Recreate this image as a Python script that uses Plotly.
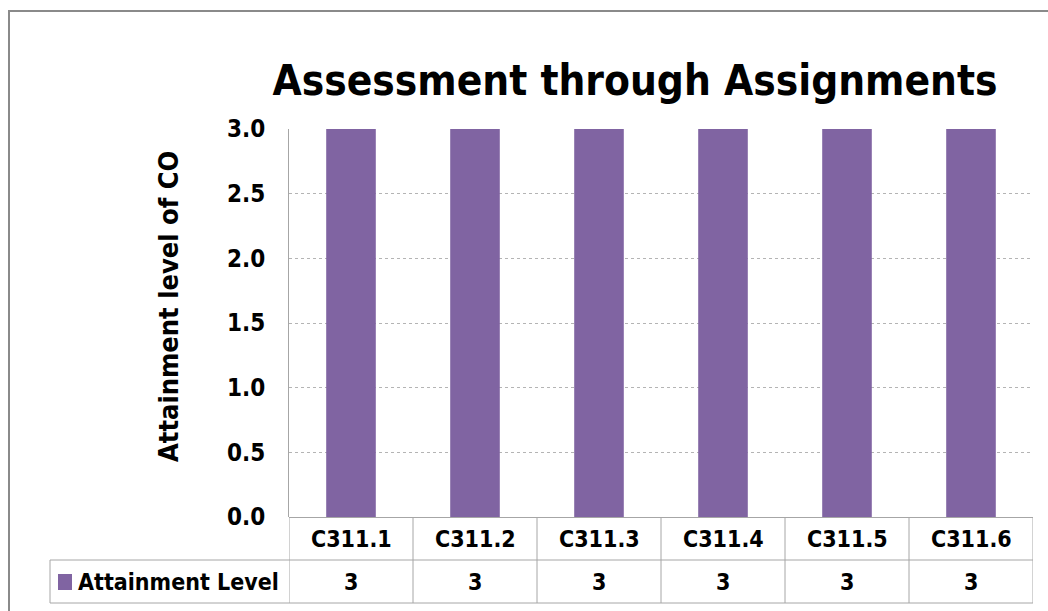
import plotly.graph_objects as go

categories = ["C311.1", "C311.2", "C311.3", "C311.4", "C311.5", "C311.6"]
attainment = [3, 3, 3, 3, 3, 3]
series_name = "Attainment Level"
y_ticks = [0, 0.5, 1.0, 1.5, 2.0, 2.5, 3.0]

purple = "#8064A2"
grid = "#A6A6A6"
font = "DejaVu Sans Condensed"

# figure geometry (pixels)
W, H = 1048, 611
L, R, T, B = 289, 15, 129, 94
ph = H - T - B
pw = W - L - R
row = 43 / ph          # table row height in paper units
leg_left = (50 - L) / pw


def px_x(p):
    return (p - L) / pw


def px_y(p):
    return (H - B - p) / ph


fig = go.Figure()
fig.add_trace(go.Bar(x=list(range(len(categories))), y=attainment, name=series_name,
                     marker=dict(color=purple, line=dict(width=0)), width=0.4,
                     showlegend=False))

shapes = []
# outer chart border
shapes.append(dict(type="rect", xref="paper", yref="paper",
                   x0=px_x(9), x1=px_x(1060), y0=px_y(620), y1=px_y(11),
                   line=dict(color="#8A8A8A", width=2), layer="below"))
# data table: vertical lines at category boundaries
for i in range(len(categories) + 1):
    shapes.append(dict(type="line", xref="x", yref="paper", x0=i - 0.5, x1=i - 0.5,
                       y0=-2 * row, y1=0, line=dict(color=grid, width=1)))
# data table: horizontal lines
for k in (1, 2):
    shapes.append(dict(type="line", xref="paper", yref="paper", x0=leg_left, x1=1,
                       y0=-k * row, y1=-k * row, line=dict(color=grid, width=1)))
shapes.append(dict(type="line", xref="paper", yref="paper", x0=leg_left, x1=leg_left,
                   y0=-2 * row, y1=-row, line=dict(color=grid, width=1)))
# legend key square
shapes.append(dict(type="rect", xref="paper", yref="paper",
                   x0=px_x(58), x1=px_x(72), y0=px_y(590), y1=px_y(574),
                   fillcolor=purple, line=dict(width=0)))

bold = dict(family=font, size=23, color="black", weight="bold")
annotations = []
for i, (c, v) in enumerate(zip(categories, attainment)):
    annotations.append(dict(x=i, xref="x", y=-row / 2, yref="paper", text=c, showarrow=False,
                            xanchor="center", yanchor="middle", font=bold))
    annotations.append(dict(x=i, xref="x", y=-1.5 * row, yref="paper", text=str(v), showarrow=False,
                            xanchor="center", yanchor="middle", font=bold))
annotations.append(dict(x=px_x(76), xref="paper", xanchor="left", y=-1.5 * row, yref="paper",
                        yanchor="middle", text=series_name, showarrow=False, font=bold))
annotations.append(dict(x=px_x(168), xref="paper", y=px_y(307), yref="paper",
                        xanchor="center", yanchor="middle",
                        text="Attainment level of CO", textangle=-90, showarrow=False,
                        font=dict(family=font, size=27, color="black", weight="bold")))

fig.update_layout(
    width=W, height=H,
    autosize=False,
    margin=dict(l=L, r=R, t=T, b=B),
    paper_bgcolor="white", plot_bgcolor="white",
    title=dict(text="Assessment through Assignments", xref="container", x=635 / W,
               xanchor="center", yref="container", y=1 - 80 / H, yanchor="middle",
               font=dict(family=font, size=42, color="black", weight="bold")),
    xaxis=dict(range=[-0.5, len(categories) - 0.5], showticklabels=False, showgrid=False,
               zeroline=False, showline=False, ticks=""),
    yaxis=dict(range=[0, 3], tickvals=y_ticks, tickformat=".1f", showgrid=True,
               gridcolor="#B4B4B4", griddash="dot", gridwidth=1, zeroline=True,
               zerolinecolor=grid, zerolinewidth=1, showline=True, linecolor=grid,
               linewidth=1, ticks="", ticklabelstandoff=18,
               tickfont=dict(family=font, size=24, color="black", weight="bold")),
    shapes=shapes,
    annotations=annotations,
    showlegend=False,
)

fig.write_html("out.html", config={"displayModeBar": False},
               post_script="document.body.style.margin='0';")
